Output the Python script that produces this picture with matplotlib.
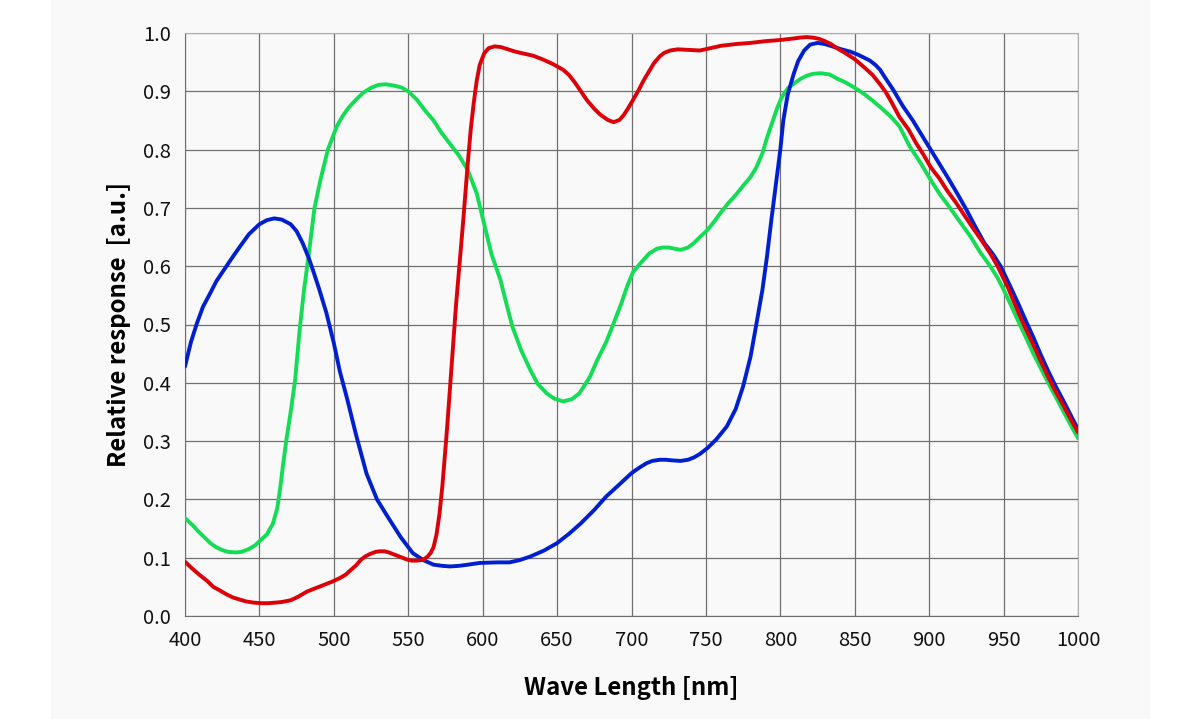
import matplotlib
matplotlib.use("Agg")
import matplotlib.pyplot as plt
from matplotlib.patches import Rectangle

# values (wavelength nm -> relative response)
blue_x = [400, 404, 408, 412, 417, 421, 426, 431, 437, 443, 450, 455, 460, 465, 471, 475, 479,
          483, 486, 490, 495, 500, 504, 509, 515, 522, 529, 536, 545, 553, 560, 567, 573, 578,
          584, 590, 598, 610, 618, 625, 632, 641, 650, 658, 666, 675, 683, 692, 700, 705, 710,
          714, 719, 723, 727, 733, 738, 742, 746, 751, 757, 764, 770, 775, 780, 784, 788, 791,
          794, 797, 800, 802, 805, 809, 812, 816, 820, 825, 830, 835, 841, 847, 852, 856, 860,
          864, 867, 870, 876, 882, 889, 895, 901, 907, 913, 919, 925, 931, 937, 943, 948, 954,
          960, 965, 970, 975, 980, 985, 990, 995, 1000]
blue_y = [0.428, 0.470, 0.502, 0.530, 0.554, 0.574, 0.593, 0.612, 0.634, 0.655, 0.672, 0.679,
          0.682, 0.680, 0.672, 0.660, 0.640, 0.615, 0.593, 0.562, 0.520, 0.468, 0.420, 0.372,
          0.310, 0.244, 0.200, 0.171, 0.135, 0.108, 0.096, 0.088, 0.086, 0.085, 0.086, 0.088,
          0.091, 0.092, 0.092, 0.096, 0.102, 0.112, 0.125, 0.141, 0.159, 0.182, 0.205, 0.226,
          0.245, 0.254, 0.262, 0.266, 0.268, 0.268, 0.267, 0.266, 0.268, 0.272, 0.278, 0.288,
          0.303, 0.325, 0.355, 0.394, 0.445, 0.502, 0.560, 0.616, 0.680, 0.740, 0.800, 0.850,
          0.895, 0.930, 0.952, 0.970, 0.980, 0.983, 0.981, 0.977, 0.972, 0.968, 0.963, 0.958,
          0.953, 0.945, 0.937, 0.925, 0.902, 0.876, 0.850, 0.825, 0.800, 0.775, 0.750, 0.724,
          0.697, 0.668, 0.640, 0.620, 0.600, 0.568, 0.535, 0.506, 0.478, 0.448, 0.420, 0.394,
          0.370, 0.345, 0.320]

green_x = [400, 405, 409, 413, 417, 421, 425, 429, 434, 438, 443, 447, 450, 455, 459, 462, 464,
           466, 468, 471, 474, 477, 480, 483, 487, 491, 496, 502, 506, 510, 515, 520, 525, 530,
           535, 540, 545, 550, 556, 561, 567, 572, 578, 584, 590, 596, 602, 606, 612, 616, 620,
           626, 632, 637, 643, 648, 654, 660, 665, 672, 677, 683, 688, 693, 697, 701, 706, 712,
           717, 721, 725, 729, 733, 738, 742, 746, 751, 756, 760, 765, 770, 775, 780, 784, 788,
           791, 795, 798, 801, 805, 810, 814, 818, 822, 827, 833, 838, 844, 850, 856, 862, 868,
           874, 880, 887, 894, 901, 907, 914, 921, 928, 934, 941, 946, 950, 955, 960, 965, 970,
           975, 980, 985, 990, 995, 1000]
green_y = [0.168, 0.156, 0.145, 0.135, 0.125, 0.118, 0.113, 0.110, 0.109, 0.110, 0.115, 0.121,
           0.128, 0.140, 0.158, 0.185, 0.220, 0.262, 0.300, 0.350, 0.405, 0.490, 0.560, 0.617,
           0.700, 0.748, 0.800, 0.840, 0.858, 0.872, 0.886, 0.898, 0.906, 0.911, 0.912, 0.910,
           0.907, 0.900, 0.885, 0.868, 0.850, 0.830, 0.810, 0.790, 0.765, 0.725, 0.662, 0.620,
           0.576, 0.535, 0.496, 0.455, 0.422, 0.398, 0.382, 0.373, 0.368, 0.372, 0.382, 0.410,
           0.439, 0.470, 0.502, 0.535, 0.565, 0.590, 0.605, 0.622, 0.630, 0.632, 0.632, 0.630,
           0.628, 0.632, 0.640, 0.650, 0.662, 0.678, 0.692, 0.708, 0.722, 0.738, 0.753, 0.770,
           0.794, 0.820, 0.850, 0.872, 0.890, 0.905, 0.915, 0.922, 0.927, 0.930, 0.931, 0.929,
           0.922, 0.915, 0.906, 0.896, 0.884, 0.871, 0.857, 0.840, 0.805, 0.778, 0.748, 0.724,
           0.700, 0.675, 0.650, 0.625, 0.600, 0.580, 0.560, 0.533, 0.505, 0.478, 0.450, 0.425,
           0.400, 0.376, 0.352, 0.328, 0.305]

red_x = [400, 405, 410, 415, 419, 424, 428, 432, 437, 441, 446, 451, 456, 461, 465, 471, 476,
         482, 487, 493, 499, 504, 508, 511, 515, 518, 521, 524, 528, 531, 534, 537, 540, 542,
         546, 549, 552, 556, 559, 561, 563, 565, 567, 569, 571, 573, 576, 578, 580, 582, 584,
         587, 590, 592, 594, 596, 598, 601, 604, 608, 612, 617, 622, 627, 634, 641, 647, 654,
         658, 662, 666, 670, 675, 679, 684, 688, 692, 695, 698, 701, 705, 708, 712, 715, 719,
         722, 726, 731, 738, 746, 753, 760, 770, 780, 790, 800, 807, 813, 818, 822, 826, 830,
         834, 838, 844, 850, 856, 862, 867, 871, 875, 880, 886, 891, 896, 901, 907, 912, 918,
         923, 929, 935, 941, 946, 953, 960, 965, 970, 975, 980, 985, 990, 995, 1000]
red_y = [0.093, 0.081, 0.070, 0.060, 0.050, 0.043, 0.037, 0.032, 0.028, 0.025, 0.023, 0.022,
         0.022, 0.023, 0.024, 0.027, 0.033, 0.042, 0.047, 0.053, 0.059, 0.065, 0.071, 0.078,
         0.087, 0.096, 0.102, 0.106, 0.110, 0.111, 0.111, 0.109, 0.106, 0.104, 0.100, 0.097,
         0.095, 0.095, 0.096, 0.098, 0.102, 0.108, 0.118, 0.140, 0.175, 0.225, 0.319, 0.390,
         0.462, 0.530, 0.590, 0.680, 0.777, 0.835, 0.880, 0.918, 0.945, 0.965, 0.974, 0.977,
         0.976, 0.972, 0.968, 0.965, 0.961, 0.954, 0.947, 0.937, 0.928, 0.915, 0.900, 0.885,
         0.870, 0.860, 0.851, 0.847, 0.851, 0.860, 0.872, 0.885, 0.903, 0.918, 0.935, 0.948,
         0.960, 0.966, 0.970, 0.972, 0.971, 0.970, 0.974, 0.978, 0.981, 0.983, 0.986, 0.988,
         0.990, 0.992, 0.993, 0.992, 0.990, 0.986, 0.981, 0.974, 0.965, 0.955, 0.942, 0.928,
         0.912, 0.898, 0.880, 0.856, 0.835, 0.812, 0.792, 0.770, 0.750, 0.730, 0.709, 0.690,
         0.667, 0.645, 0.622, 0.600, 0.563, 0.520, 0.492, 0.465, 0.437, 0.410, 0.385, 0.362,
         0.338, 0.315]

x_ticks = [400, 450, 500, 550, 600, 650, 700, 750, 800, 850, 900, 950, 1000]
y_ticks = [0.0, 0.1, 0.2, 0.3, 0.4, 0.5, 0.6, 0.7, 0.8, 0.9, 1.0]

plt.rcParams["font.family"] = ["Noto Sans CJK JP", "DejaVu Sans"]

fig = plt.figure(figsize=(12, 7.19), dpi=100, facecolor="white")
# light grey card behind the chart
fig.patches.append(Rectangle((51 / 1200, 0), 1099 / 1200, 1, transform=fig.transFigure,
                             facecolor="#f9f9f9", edgecolor="none", zorder=-10))
ax = fig.add_axes([185 / 1200, 1 - 616 / 719, 893 / 1200, 583 / 719])
ax.set_facecolor("#f9f9f9")

ax.plot(green_x, green_y, color="#14dc55", lw=2.8, solid_capstyle="round",
        solid_joinstyle="round", zorder=3)
ax.plot(blue_x, blue_y, color="#0020d0", lw=2.8, solid_capstyle="round",
        solid_joinstyle="round", zorder=4)
ax.plot(red_x, red_y, color="#dc0008", lw=2.8, solid_capstyle="round",
        solid_joinstyle="round", zorder=5)

ax.set_xlim(400, 1000)
ax.set_ylim(0, 1.0)
ax.set_xticks(x_ticks)
ax.set_yticks(y_ticks)
ax.set_yticklabels([f"{v:.1f}" for v in y_ticks])
ax.tick_params(length=0, labelsize=14.5, pad=10, colors="#111111")
ax.grid(True, color="#707070", lw=0.9)
ax.set_axisbelow(True)
for side in ["left", "bottom"]:
    ax.spines[side].set_color("#707070")
for side in ["top", "right"]:
    ax.spines[side].set_color("#b0b0b0")

ax.set_xlabel("Wave Length [nm]", fontsize=17.3, fontweight="bold", labelpad=18)
ax.set_ylabel("Relative response  [a.u.]", fontsize=17.3, fontweight="bold", labelpad=9)

fig.savefig("out.png", dpi=100, facecolor=fig.get_facecolor())
